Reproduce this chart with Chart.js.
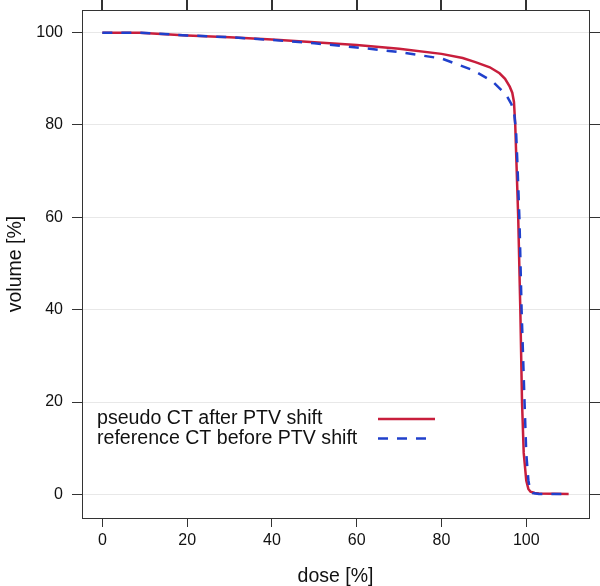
<!DOCTYPE html>
<html>
<head>
<meta charset="utf-8">
<script src="https://cdn.jsdelivr.net/npm/chart.js@4/dist/chart.umd.min.js"></script>
<style>
  body { margin: 0; background: #fff; }
  #wrap { width: 600px; height: 586px; }
</style>
</head>
<body>
<div id="wrap"><canvas id="dvhChart" width="600" height="586"></canvas></div>
<script>
// dose-volume histogram, values
const doseRed = [0, 8.8, 20, 30, 40, 50, 60, 70, 80, 85, 88, 91.4, 93.7, 95, 96.1, 96.7, 97.1, 97.4, 98.1, 98.6, 99.0, 99.4, 100.0, 100.5, 101, 102, 103, 110];
const volRed  = [100, 100, 99.4, 99.0, 98.5, 97.9, 97.3, 96.5, 95.4, 94.5, 93.6, 92.5, 91.2, 90.0, 88.3, 87.0, 85.0, 80.0, 60.0, 40.0, 20.0, 9.0, 3.0, 1.2, 0.6, 0.3, 0.2, 0.1];

const doseBlue = [0, 8.8, 20, 30, 40, 50, 60, 70, 80, 87.4, 92.1, 95.3, 96.5, 97.2, 97.6, 97.9, 98.4, 98.9, 99.6, 100.0, 100.5, 100.9, 101.5, 103, 110];
const volBlue  = [100, 100, 99.4, 99.0, 98.4, 97.7, 96.8, 95.8, 94.4, 91.9, 89.4, 86.5, 84.5, 82.1, 78.5, 72.0, 59.4, 39.9, 19.8, 8.9, 3.1, 0.9, 0.3, 0.1, 0.1];

const seriesNames = ['pseudo CT after PTV shift', 'reference CT before PTV shift'];
const xTitle = 'dose [%]';
const yTitle = 'volume [%]';

const RED = '#c81e3c';
const BLUE = '#2040cc';
const FONT = "'Liberation Sans', Arial, Helvetica, sans-serif";

const toPoints = (xs, ys) => xs.map((x, i) => ({ x: x, y: ys[i] }));

// legend sits inside the panel: text first, then line sample
const legendInside = {
    id: 'legendInside',
    afterDatasetsDraw(chart) {
        const ctx = chart.ctx;
        const rows = [
            { text: seriesNames[0], color: RED, dash: [] },
            { text: seriesNames[1], color: BLUE, dash: [10, 9] }
        ];
        ctx.save();
        ctx.font = '19.6px ' + FONT;
        ctx.textBaseline = 'middle';
        ctx.textAlign = 'left';
        rows.forEach((r, i) => {
            const y = 419 + i * 19.5;
            ctx.fillStyle = '#111';
            ctx.fillText(r.text, 97, y);
            ctx.strokeStyle = r.color;
            ctx.lineWidth = 2.5;
            ctx.setLineDash(r.dash);
            ctx.beginPath();
            ctx.moveTo(378, y);
            ctx.lineTo(435, y);
            ctx.stroke();
        });
        ctx.restore();
    }
};

// lattice-style tick marks on the top edge, placed by the x scale
const topTicks = {
    id: 'topTicks',
    afterDraw(chart) {
        const ctx = chart.ctx;
        const xs = chart.scales.x;
        const top = chart.chartArea.top;
        ctx.save();
        ctx.fillStyle = '#333';
        xs.ticks.forEach(t => {
            const px = Math.round(xs.getPixelForValue(t.value));
            ctx.fillRect(px - 1, 0, 2, top);
        });
        ctx.restore();
    }
};

const edge = { display: true, color: '#333', width: 1 };
const tickFont = { family: FONT, size: 16 };

// fixed box sizes so the panel lands where the reference has it
function fixH(h) {
    return s => { s.height = h; s.paddingLeft = 0; s.paddingRight = 0; };
}
function fixW(w) {
    return s => { s.width = w; s.paddingTop = 0; s.paddingBottom = 0; };
}

new Chart(document.getElementById('dvhChart'), {
    type: 'line',
    data: {
        datasets: [
            {
                label: seriesNames[0],
                data: toPoints(doseRed, volRed),
                borderColor: RED,
                borderWidth: 2.5,
                pointRadius: 0,
                tension: 0,
                order: 2
            },
            {
                label: seriesNames[1],
                data: toPoints(doseBlue, volBlue),
                borderColor: BLUE,
                borderWidth: 2.5,
                borderDash: [10, 9],
                pointRadius: 0,
                tension: 0,
                order: 1
            }
        ]
    },
    options: {
        responsive: false,
        animation: false,
        layout: { padding: 0 },
        plugins: { legend: { display: false }, tooltip: { enabled: false } },
        scales: {
            x: {
                type: 'linear', position: 'bottom', min: -4.8, max: 114.8,
                afterFit: fixH(68),
                ticks: { stepSize: 20, includeBounds: false, font: tickFont, color: '#111', padding: 4, maxRotation: 0 },
                grid: { drawOnChartArea: false, tickLength: 9, tickColor: '#333' },
                border: edge,
                title: { display: true, text: xTitle, font: { family: FONT, size: 19.5, lineHeight: 1 }, color: '#111', padding: { top: 0, bottom: 0 } }
            },
            x2: {
                type: 'linear', position: 'top', min: -4.8, max: 114.8,
                afterFit: fixH(10),
                ticks: { display: false },
                grid: { display: false },
                border: edge
            },
            y: {
                type: 'linear', position: 'left', min: -5.1, max: 104.9,
                afterFit: fixW(82),
                ticks: { stepSize: 20, includeBounds: false, font: tickFont, color: '#111', padding: 9 },
                grid: { color: '#e8e8e8', tickColor: '#333', tickLength: 10 },
                border: edge,
                title: { display: true, text: yTitle, font: { family: FONT, size: 19.5, lineHeight: 1 }, color: '#111', padding: { top: 6, bottom: 0 } }
            },
            y2: {
                type: 'linear', position: 'right', min: -5.1, max: 104.9,
                afterFit: fixW(11),
                ticks: { stepSize: 20, includeBounds: false, display: true, color: 'rgba(0,0,0,0)', font: { size: 1 }, padding: 0 },
                grid: { drawOnChartArea: false, tickLength: 11, tickColor: '#333' },
                border: edge
            }
        }
    },
    plugins: [legendInside, topTicks]
});
</script>
</body>
</html>
